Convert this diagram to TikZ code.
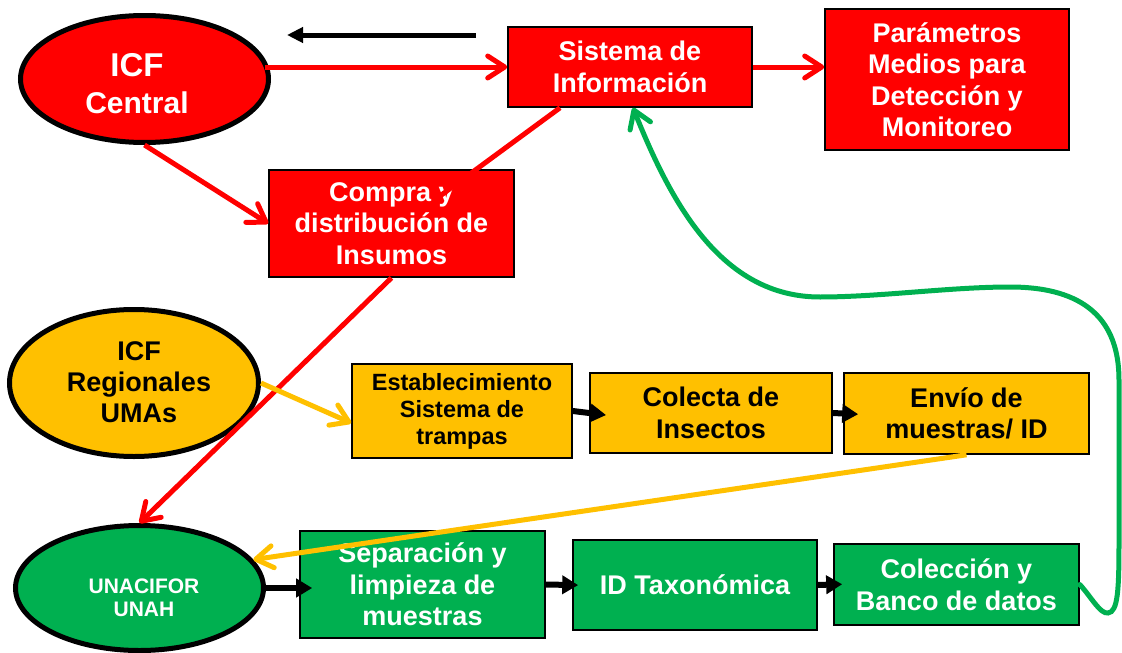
\documentclass[tikz,border=0pt]{standalone}
\usepackage{fontspec}
\setmainfont{Liberation Sans}
\usetikzlibrary{shapes.geometric,arrows.meta}
\definecolor{cred}{HTML}{FF0000}
\definecolor{cyel}{HTML}{FFC000}
\definecolor{cgrn}{HTML}{00B050}
\begin{document}
\begin{tikzpicture}[x=1pt,y=-1pt,
  box/.style={rectangle,draw=black,line width=1.6pt,inner sep=0pt,align=center,
    font=\bfseries\fontsize{27}{31.5}\selectfont},
  redbox/.style={box,fill=cred,text=white},
  yelbox/.style={box,fill=cyel,text=black},
  grnbox/.style={box,fill=cgrn,text=white},
  ell/.style={ellipse,draw=black,line width=5pt,inner sep=0pt},
  elltext/.style={inner sep=0pt,align=center,font=\bfseries\fontsize{27}{31}\selectfont},
  barb/.style={-{Straight Barb[round,length=17pt,width=22pt]}},
  redarrow/.style={draw=cred,line width=5pt,barb},
  redline/.style={draw=cred,line width=5pt},
  yelarrow/.style={draw=cyel,line width=5pt,barb},
  grnarrow/.style={draw=cgrn,line width=5pt,line cap=round,barb},
  blkarrow/.style={draw=black,line width=6pt,-{Triangle[length=16pt,width=18pt]}}
]
\useasboundingbox (0,0) rectangle (1122,653);

% nodes
\node[ell,fill=cred,minimum width=248pt,minimum height=127pt] (icf) at (144.5,79) {};
\node[elltext,text=white,font=\bfseries\fontsize{33}{37}\selectfont] (icft) at (137,79)
  {ICF\rule{0pt}{32pt}\\{\fontsize{30}{37}\selectfont Central}};
\node[redbox,minimum width=244pt,minimum height=80pt] (sis) at (630,67) {Sistema de\\Información};
\node[redbox,minimum width=244pt,minimum height=141pt] (par) at (947,79.5) {Parámetros\\Medios para\\Detección y\\Monitoreo};
\node[redbox,minimum width=245pt,minimum height=107pt] (compra) at (391.5,223.5) {Compra y\\distribución de\\Insumos};

\node[ell,fill=cyel,minimum width=249pt,minimum height=147pt] (reg) at (134,383) {};
\node[elltext,text=black] (regt) at (139,382) {ICF\\Regionales\\UMAs};
\node[yelbox,minimum width=220pt,minimum height=94pt,font=\bfseries\fontsize{23.5}{27}\selectfont] (estab) at (462,411)
  {Establecimiento\\Sistema de\\trampas};
\node[yelbox,minimum width=242pt,minimum height=80pt] (colecta) at (711,413) {Colecta de\\Insectos};
\node[yelbox,minimum width=245pt,minimum height=81pt] (envio) at (966.5,413.5) {Envío de\\muestras/ ID};

\node[ell,fill=cgrn,minimum width=248pt,minimum height=125pt] (una) at (139.5,588) {};
\node[elltext,text=white,font=\bfseries\fontsize{21}{23}\selectfont] (unat) at (144,588)
  {\rule{0pt}{35pt}UNACIFOR\\UNAH};
\node[grnbox,minimum width=245pt,minimum height=107pt] (sep) at (422.5,584.5) {Separación y\\limpieza de\\muestras};
\node[grnbox,minimum width=244pt,minimum height=90pt] (idt) at (695,585) {ID Taxonómica};
\node[grnbox,minimum width=245pt,minimum height=81pt] (col) at (956.5,584.5) {Colección y\\Banco de datos};

\coordinate (ta) at (476,35);
\coordinate (tb) at (287,35);
\coordinate (cy) at (440,196);

% connectors
\draw[blkarrow,line width=5pt,-{Triangle[length=16pt,width=15pt]}] (ta) -- (tb);
\draw[redarrow] ([xshift=-6pt]icf.east |- sis.west) -- (sis.west);
\draw[redarrow] (sis.east) -- (par.west |- sis.east);
\draw[redline] ([xshift=-70pt]sis.south) -- (cy);
\draw[redarrow] (icf.south) -- (compra.west);
\draw[redarrow] (compra.south) -- (una.north);

\draw[yelarrow] (reg.east) -- ([yshift=-12pt]estab.west);
\draw[yelarrow] (envio.south) -- (una.14);

\draw[blkarrow,shorten >=-17pt] (estab.east) -- (colecta.west);
\draw[blkarrow,shorten >=-15pt] (colecta.east) -- (envio.west);
\draw[blkarrow,shorten >=-13pt] (una.east) -- (una.east -| sep.west);
\draw[blkarrow,shorten >=-6pt] (sep.east) -- (idt.west);
\draw[blkarrow,shorten >=-9pt] (idt.east) -- (col.west);

\draw[grnarrow] (col.east) .. controls (1092,598) and (1100,614) .. (1108,613)
  .. controls (1118,612) and (1119,590) .. (1119,540) -- (1119,380)
  .. controls (1119,320) and (1085,287) .. (1010,287)
  .. controls (950,287) and (880,297) .. (820,297)
  .. controls (720,297) and (670,200) .. ([xshift=3pt]sis.south);
\end{tikzpicture}
\end{document}
